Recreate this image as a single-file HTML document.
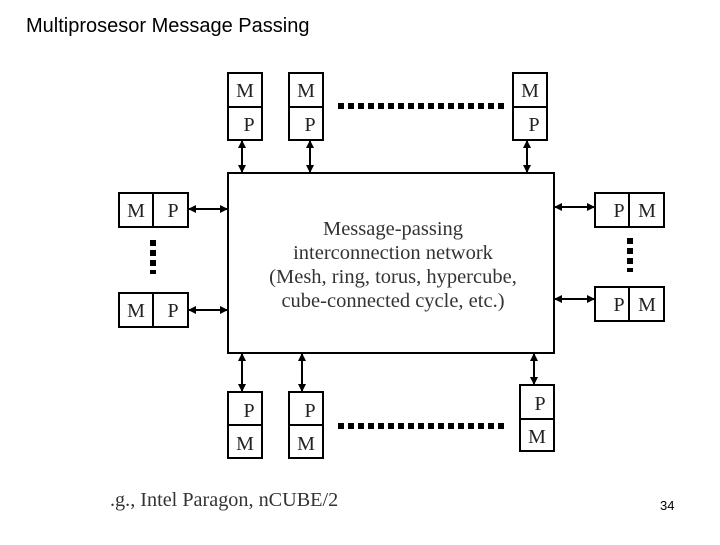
<!DOCTYPE html>
<html><head><style>
body{margin:0;background:#fff;width:720px;height:540px;overflow:hidden}
</style></head><body>
<svg width="720" height="540" xmlns="http://www.w3.org/2000/svg">
<defs>
<marker id="a" markerWidth="8" markerHeight="8" refX="7" refY="4" orient="auto-start-reverse" markerUnits="userSpaceOnUse"><path d="M0,0 L8,4 L0,8 z" fill="#000"/></marker>
</defs>
<text x="26" y="32" font-family="Liberation Sans, sans-serif" font-size="20" fill="#000">Multiprosesor  Message Passing</text>
<g fill="#fff" stroke="#000" stroke-width="2">
<rect x="228" y="173" width="326" height="180"/>
<rect x="228" y="73" width="34" height="67"/><line x1="228" y1="107" x2="262" y2="107"/>
<rect x="289" y="73" width="34" height="67"/><line x1="289" y1="107" x2="323" y2="107"/>
<rect x="513" y="73" width="34" height="67"/><line x1="513" y1="107" x2="547" y2="107"/>
<rect x="228" y="392" width="34" height="66"/><line x1="228" y1="425" x2="262" y2="425"/>
<rect x="289" y="392" width="34" height="66"/><line x1="289" y1="425" x2="323" y2="425"/>
<rect x="520" y="385" width="34" height="66"/><line x1="520" y1="419" x2="554" y2="419"/>
<rect x="119" y="193" width="69" height="34"/><line x1="153" y1="193" x2="153" y2="227"/>
<rect x="119" y="293" width="69" height="34"/><line x1="153" y1="293" x2="153" y2="327"/>
<rect x="595" y="193" width="69" height="34"/><line x1="629" y1="193" x2="629" y2="227"/>
<rect x="595" y="287" width="69" height="34"/><line x1="629" y1="287" x2="629" y2="321"/>
</g>
<g stroke="#000" stroke-width="2" marker-start="url(#a)" marker-end="url(#a)">
<line x1="242" y1="141" x2="242" y2="172"/>
<line x1="310" y1="141" x2="310" y2="172"/>
<line x1="527" y1="141" x2="527" y2="172"/>
<line x1="242" y1="354" x2="242" y2="391"/>
<line x1="302" y1="354" x2="302" y2="391"/>
<line x1="534" y1="354" x2="534" y2="384"/>
<line x1="189" y1="209" x2="227" y2="209"/>
<line x1="189" y1="310" x2="227" y2="310"/>
<line x1="555" y1="207" x2="594" y2="207"/>
<line x1="555" y1="299" x2="594" y2="299"/>
</g>
<g stroke="#000" stroke-width="6" stroke-dasharray="6,4">
<line x1="338" y1="106" x2="506" y2="106"/>
<line x1="338" y1="426" x2="506" y2="426"/>
<line x1="153" y1="240" x2="153" y2="274"/>
<line x1="630" y1="238" x2="630" y2="272"/>
</g>
<g font-family="Liberation Serif, serif" font-size="20" fill="#222" text-anchor="middle">
<text x="245" y="97">M</text><text x="249" y="131">P</text>
<text x="306" y="97">M</text><text x="310" y="131">P</text>
<text x="530" y="97">M</text><text x="534" y="131">P</text>
<text x="249" y="417">P</text><text x="245" y="450">M</text>
<text x="310" y="417">P</text><text x="306" y="450">M</text>
<text x="540" y="410">P</text><text x="537" y="443">M</text>
<text x="136" y="217">M</text><text x="173" y="217">P</text>
<text x="136" y="317">M</text><text x="173" y="317">P</text>
<text x="619" y="217">P</text><text x="647" y="217">M</text>
<text x="619" y="311">P</text><text x="647" y="311">M</text>
</g>
<g font-family="Liberation Serif, serif" font-size="20.5" fill="#333" text-anchor="middle">
<text x="393" y="235">Message-passing</text>
<text x="393" y="259">interconnection network</text>
<text x="393" y="283">(Mesh, ring, torus, hypercube,</text>
<text x="393" y="307">cube-connected cycle, etc.)</text>
</g>
<text x="110" y="506" font-family="Liberation Serif, serif" font-size="20.2" fill="#333">.g., Intel Paragon, nCUBE/2</text>
<text x="660" y="510" font-family="Liberation Sans, sans-serif" font-size="13" fill="#000">34</text>
</svg>
</body></html>
